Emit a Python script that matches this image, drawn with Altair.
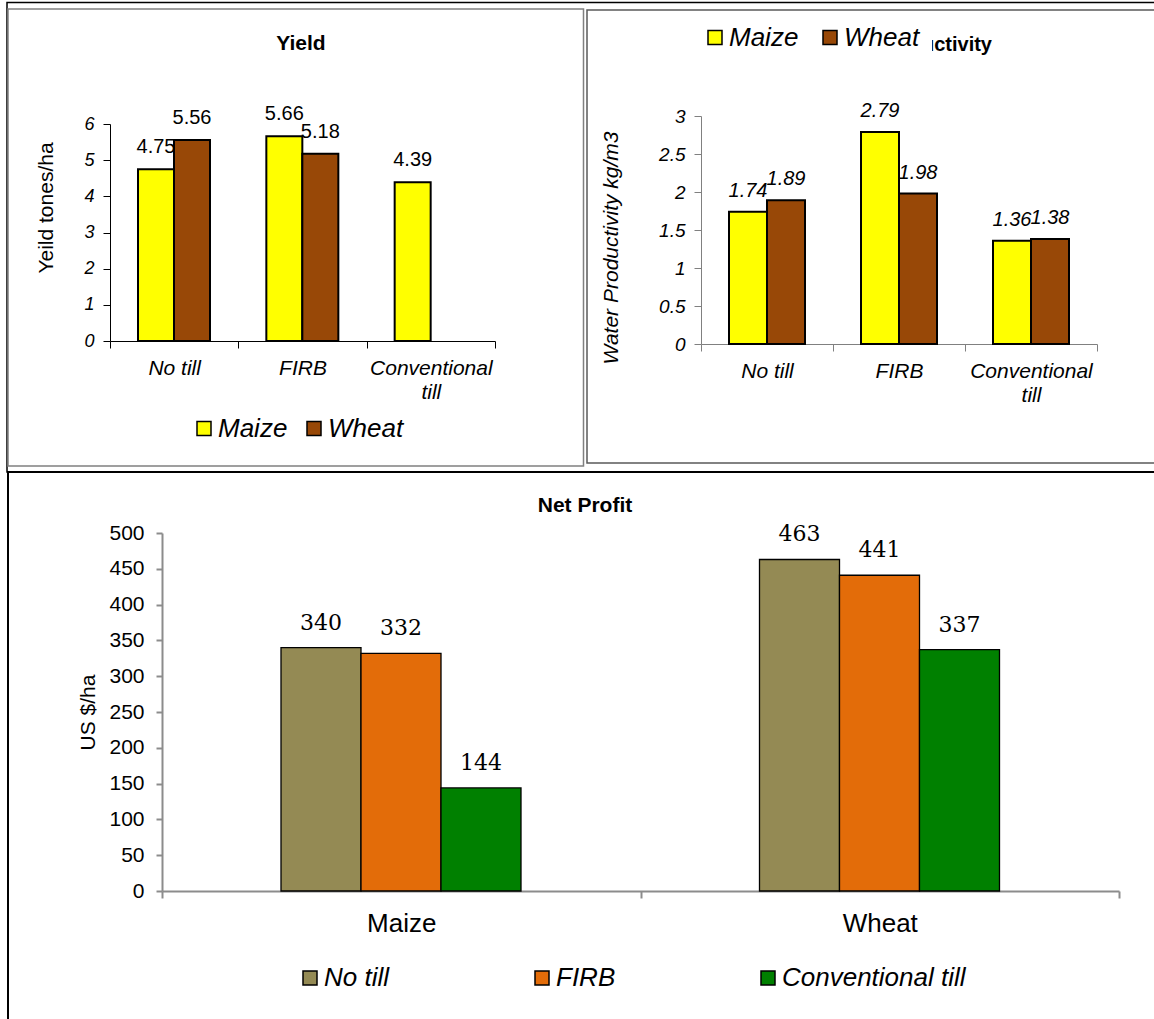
import altair as alt
import pandas as pd

# ---------------- data ----------------
tillage = ["No till", "FIRB", "Conventional till"]
crops = ["Maize", "Wheat"]
yield_maize = [4.75, 5.66, 4.39]
yield_wheat = [5.56, 5.18, None]
wp_maize = [1.74, 2.79, 1.36]
wp_wheat = [1.89, 1.98, 1.38]
profit_no_till = [340, 463]
profit_firb = [332, 441]
profit_conv = [144, 337]
yield_ticks = [0, 1, 2, 3, 4, 5, 6]
wp_ticks = [0, 0.5, 1, 1.5, 2, 2.5, 3]
profit_ticks = [0, 50, 100, 150, 200, 250, 300, 350, 400, 450, 500]
crop_colors = ["#FFFF00", "#984807"]
tillage_colors = ["#948A54", "#E36C09", "#008000"]

W, H = 1154, 1019
FONT = "Liberation Sans"
SERIF = "DejaVu Serif"
SPLIT = "length(datum.label) > 12 ? split(datum.label, ' ') : datum.label"

one = pd.DataFrame({"k": [0]})

yield_df = pd.DataFrame({
    "Tillage": tillage + tillage,
    "Crop": ["Maize"] * 3 + ["Wheat"] * 3,
    "Value": yield_maize + yield_wheat,
}).dropna()

wp_df = pd.DataFrame({
    "Tillage": tillage + tillage,
    "Crop": ["Maize"] * 3 + ["Wheat"] * 3,
    "Value": wp_maize + wp_wheat,
})

profit_df = pd.DataFrame({
    "Crop": crops * 3,
    "Tillage": [tillage[0]] * 2 + [tillage[1]] * 2 + [tillage[2]] * 2,
    "Value": profit_no_till + profit_firb + profit_conv,
})

# ---------------- decorations ----------------
def box(x1, x2, y1, y2, color, width):
    return alt.Chart(one).mark_rect(filled=False, stroke=color, strokeWidth=width).encode(
        x=alt.value(x1), x2=alt.value(x2), y=alt.value(y1), y2=alt.value(y2))

def title(txt, x, y, align, size):
    return alt.Chart(one).mark_text(font=FONT, fontSize=size, fontWeight="bold", align=align,
                                    baseline="alphabetic", color="black").encode(
        x=alt.value(x), y=alt.value(y), text=alt.value(txt))

frames = [
    box(7, 1170, 2.5, 472, "black", 1.5),
    box(8, 583.5, 9, 466, "#808080", 1.5),
    box(587, 1170, 10, 463, "#5A5A5A", 1.5),
    box(8, 1170, 472, 1040, "black", 2),
]
titles = [
    title("Yield", 301, 50, "center", 21),
    title("Water Productivity", 992, 51, "right", 20),
    title("Net Profit", 585, 512, "center", 21),
]

# ---------------- shared helpers ----------------
def top_axes(x0, x1, y0, y1, ymax, ticks, ytitle, title_x, title_y, title_italic, axis_color, tick_label_size):
    xenc = alt.X("Tillage:N",
                 scale=alt.Scale(domain=tillage, range=[x0, x1], paddingInner=0, paddingOuter=0),
                 axis=alt.Axis(orient="bottom", offset=-(H - y0), title=None, labelAngle=0,
                               labelFont=FONT, labelFontSize=21, labelFontStyle="italic",
                               labelColor="black", labelPadding=9, labelLineHeight=24,
                               labelExpr=SPLIT, domainColor=axis_color, tickColor=axis_color,
                               tickSize=7, tickBand="extent", grid=False))
    yenc = alt.Y("Value:Q",
                 scale=alt.Scale(domain=[0, ymax], range=[y0, y1], nice=False, zero=True),
                 axis=alt.Axis(orient="left", offset=-x0, values=ticks, format="~g",
                               labelFont=FONT, labelFontSize=tick_label_size, labelFontStyle="italic",
                               labelColor="black", labelPadding=9, tickSize=7,
                               domainColor=axis_color, tickColor=axis_color, grid=False,
                               title=ytitle, titleFont=FONT, titleFontSize=21,
                               titleFontWeight="normal",
                               titleFontStyle="italic" if title_italic else "normal",
                               titleColor="black", titleX=title_x - x0, titleY=title_y,
                               titleAngle=270, titleAlign="center", titleBaseline="middle"))
    return xenc, yenc

def crop_legend(lx, ly, colpad, pad, fill):
    return alt.Legend(orient="none", legendX=lx, legendY=ly, direction="horizontal", title=None,
                      symbolType="square", symbolSize=196, symbolStrokeColor="black",
                      symbolStrokeWidth=1.5, labelFont=FONT, labelFontSize=26,
                      labelFontStyle="italic", labelColor="black", labelOffset=1,
                      columnPadding=colpad, padding=pad, fillColor=fill, labelLimit=400)

# ---------------- Yield ----------------
yx, yy = top_axes(110, 495, 341, 124, 6, yield_ticks, "Yeild tones/ha", 46, 207.5, False, "black", 18)
yxo = alt.XOffset("Crop:N", scale=alt.Scale(domain=crops, range=[28, 100], paddingInner=0, paddingOuter=0))
y_base = alt.Chart(yield_df).encode(x=yx, y=yy, xOffset=yxo)
y_bars = y_base.mark_bar(stroke="black", strokeWidth=2).encode(
    color=alt.Color("Crop:N", scale=alt.Scale(domain=crops, range=crop_colors),
                    legend=crop_legend(191, 415.5, 13, 0, "transparent")))
y_text = y_base.mark_text(font=FONT, fontSize=20, color="black", baseline="alphabetic", dy=-16).encode(
    text=alt.Text("Value:Q", format=".2f"))
yield_layer = alt.layer(y_bars, y_text)

# ---------------- Water productivity ----------------
wx, wy = top_axes(701, 1097, 344, 116, 3, wp_ticks, "Water Productivity kg/m3", 611, 247.5, True, "#808080", 19)
wxo = alt.XOffset("Crop:N", scale=alt.Scale(domain=crops, range=[28, 104], paddingInner=0, paddingOuter=0))
w_base = alt.Chart(wp_df).encode(x=wx, y=wy, xOffset=wxo)
w_bars = w_base.mark_bar(stroke="black", strokeWidth=2).encode(
    color=alt.Color("Crop:N", scale=alt.Scale(domain=crops, range=crop_colors),
                    legend=crop_legend(690, 12.5, 18, 12, "white")))
w_text = w_base.mark_text(font=FONT, fontSize=20, fontStyle="italic", color="black",
                          baseline="alphabetic", dy=-15).encode(
    text=alt.Text("Value:Q", format=".2f"))
wp_layer = alt.layer(w_bars, w_text)

# ---------------- Net profit ----------------
px = alt.X("Crop:N", scale=alt.Scale(domain=crops, range=[162, 1119], paddingInner=0, paddingOuter=0),
           axis=alt.Axis(orient="bottom", offset=-(H - 891), title=None, labelAngle=0,
                         labelFont=FONT, labelFontSize=26, labelColor="black", labelPadding=12,
                         domainColor="#8C8C8C", domainWidth=2, tickColor="#8C8C8C", tickWidth=2,
                         tickSize=7, tickBand="extent", grid=False))
py = alt.Y("Value:Q", scale=alt.Scale(domain=[0, 500], range=[891, 533], nice=False),
           axis=alt.Axis(orient="left", offset=-162, values=profit_ticks, format="d",
                         labelFont=FONT, labelFontSize=21, labelColor="black", labelPadding=12,
                         tickSize=6, tickWidth=2, domainColor="#8C8C8C", domainWidth=2,
                         tickColor="#8C8C8C", grid=False,
                         title="US $/ha", titleFont=FONT, titleFontSize=21, titleFontWeight="normal",
                         titleColor="black", titleX=88 - 162, titleY=712, titleAngle=270,
                         titleAlign="center", titleBaseline="middle"))
pxo = alt.XOffset("Tillage:N", scale=alt.Scale(domain=tillage, range=[119, 359], paddingInner=0, paddingOuter=0))
p_base = alt.Chart(profit_df).encode(x=px, y=py, xOffset=pxo)
p_bars = p_base.mark_bar(stroke="black", strokeWidth=1.3).encode(
    color=alt.Color("Tillage:N", scale=alt.Scale(domain=tillage, range=tillage_colors),
                    legend=alt.Legend(orient="none", legendX=297, legendY=965, direction="horizontal",
                                      title=None, symbolType="square", symbolSize=196,
                                      symbolStrokeColor="black", symbolStrokeWidth=1.5,
                                      labelFont=FONT, labelFontSize=26, labelFontStyle="italic",
                                      labelColor="black", labelOffset=1, columnPadding=139,
                                      padding=0, labelLimit=400)))
p_text = p_base.mark_text(font=SERIF, fontSize=22, color="black", baseline="alphabetic", dy=-18).encode(
    text=alt.Text("Value:Q", format="d"))
profit_layer = alt.layer(p_bars, p_text)

chart = alt.layer(
    *frames, *titles, yield_layer, wp_layer, profit_layer
).resolve_scale(
    x="independent", y="independent", xOffset="independent", color="independent"
).properties(
    width=W, height=H, autosize=alt.AutoSizeParams(type="none"), padding=0,
    background="white"
).configure_view(strokeWidth=0)

chart.save("out.html", embed_options={"renderer": "svg", "actions": False})
